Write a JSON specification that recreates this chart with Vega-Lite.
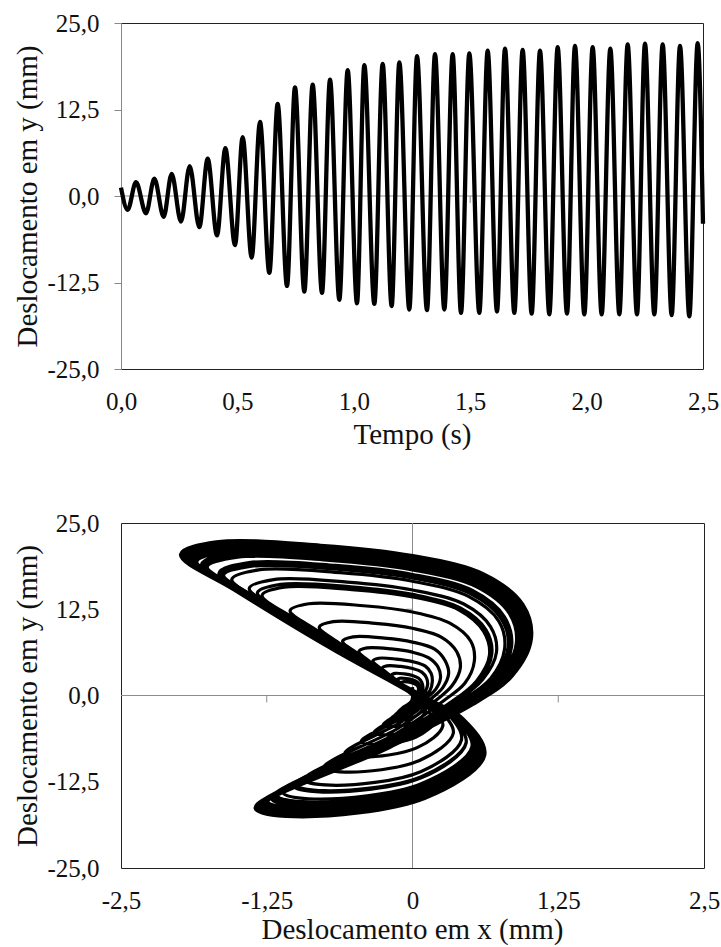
{
"$schema": "https://vega.github.io/schema/vega-lite/v6.json",
"background": "white",
"padding": {"left": 12, "top": 10, "right": 0, "bottom": 0},
"spacing": 60,
"config": {
  "font": "Liberation Serif",
  "view": {"stroke": "#222", "strokeWidth": 1},
  "axis": {"labelFont": "Liberation Serif", "titleFont": "Liberation Serif", "labelFontSize": 25, "titleFontSize": 29, "titleFontWeight": "normal", "labelColor": "#111", "titleColor": "#111", "grid": false, "labelOverlap": false, "labelFlush": false, "labelBound": false}
},
"datasets": {
"phase": [
{"i":0,"x":0.00,"y":1.20},
{"i":1,"x":-0.01,"y":-0.85},{"i":2,"x":-0.09,"y":-1.87},{"i":3,"x":-0.07,"y":-2.00},{"i":4,"x":0.01,"y":-1.70},{"i":5,"x":0.04,"y":-0.99},{"i":6,"x":0.03,"y":-0.41},
{"i":7,"x":0.01,"y":-0.07},{"i":8,"x":-0.03,"y":0.63},{"i":9,"x":-0.08,"y":1.40},{"i":10,"x":-0.10,"y":1.85},{"i":11,"x":-0.08,"y":2.00},{"i":12,"x":-0.04,"y":1.96},{"i":13,"x":0.00,"y":1.82},{"i":14,"x":0.03,"y":1.58},{"i":15,"x":0.05,"y":1.18},{"i":16,"x":0.05,"y":0.74},{"i":17,"x":0.04,"y":0.27},{"i":18,"x":0.03,"y":-0.11},
{"i":19,"x":-0.02,"y":-1.06},{"i":20,"x":-0.12,"y":-2.34},{"i":21,"x":-0.09,"y":-2.50},{"i":22,"x":0.01,"y":-2.12},{"i":23,"x":0.05,"y":-1.24},{"i":24,"x":0.04,"y":-0.51},
{"i":25,"x":0.01,"y":-0.09},{"i":26,"x":-0.05,"y":0.79},{"i":27,"x":-0.10,"y":1.75},{"i":28,"x":-0.13,"y":2.31},{"i":29,"x":-0.11,"y":2.50},{"i":30,"x":-0.05,"y":2.45},{"i":31,"x":0.00,"y":2.28},{"i":32,"x":0.04,"y":1.97},{"i":33,"x":0.06,"y":1.48},{"i":34,"x":0.07,"y":0.93},{"i":35,"x":0.06,"y":0.34},{"i":36,"x":0.03,"y":-0.14},
{"i":37,"x":-0.02,"y":-1.27},{"i":38,"x":-0.15,"y":-2.81},{"i":39,"x":-0.11,"y":-3.00},{"i":40,"x":0.01,"y":-2.55},{"i":41,"x":0.07,"y":-1.48},{"i":42,"x":0.05,"y":-0.61},
{"i":43,"x":0.01,"y":-0.12},{"i":44,"x":-0.06,"y":1.00},{"i":45,"x":-0.14,"y":2.24},{"i":46,"x":-0.18,"y":2.96},{"i":47,"x":-0.15,"y":3.20},{"i":48,"x":-0.07,"y":3.13},{"i":49,"x":0.00,"y":2.91},{"i":50,"x":0.05,"y":2.52},{"i":51,"x":0.08,"y":1.89},{"i":52,"x":0.09,"y":1.19},{"i":53,"x":0.08,"y":0.43},{"i":54,"x":0.05,"y":-0.17},
{"i":55,"x":-0.03,"y":-1.57},{"i":56,"x":-0.19,"y":-3.46},{"i":57,"x":-0.15,"y":-3.70},{"i":58,"x":0.01,"y":-3.14},{"i":59,"x":0.09,"y":-1.83},{"i":60,"x":0.06,"y":-0.75},
{"i":61,"x":0.02,"y":-0.15},{"i":62,"x":-0.09,"y":1.35},{"i":63,"x":-0.20,"y":3.01},{"i":64,"x":-0.26,"y":3.97},{"i":65,"x":-0.22,"y":4.30},{"i":66,"x":-0.10,"y":4.21},{"i":67,"x":0.00,"y":3.91},{"i":68,"x":0.08,"y":3.39},{"i":69,"x":0.12,"y":2.55},{"i":70,"x":0.13,"y":1.60},{"i":71,"x":0.11,"y":0.58},{"i":72,"x":0.07,"y":-0.23},
{"i":73,"x":-0.04,"y":-1.91},{"i":74,"x":-0.25,"y":-4.21},{"i":75,"x":-0.19,"y":-4.50},{"i":76,"x":0.02,"y":-3.82},{"i":77,"x":0.11,"y":-2.22},{"i":78,"x":0.08,"y":-0.91},
{"i":79,"x":0.03,"y":-0.19},{"i":80,"x":-0.12,"y":1.70},{"i":81,"x":-0.26,"y":3.78},{"i":82,"x":-0.34,"y":4.99},{"i":83,"x":-0.29,"y":5.40},{"i":84,"x":-0.14,"y":5.28},{"i":85,"x":0.00,"y":4.91},{"i":86,"x":0.11,"y":4.26},{"i":87,"x":0.16,"y":3.20},{"i":88,"x":0.17,"y":2.01},{"i":89,"x":0.15,"y":0.73},{"i":90,"x":0.09,"y":-0.29},
{"i":91,"x":-0.05,"y":-2.42},{"i":92,"x":-0.33,"y":-5.34},{"i":93,"x":-0.25,"y":-5.70},{"i":94,"x":0.03,"y":-4.84},{"i":95,"x":0.15,"y":-2.82},{"i":96,"x":0.11,"y":-1.16},
{"i":97,"x":0.03,"y":-0.25},{"i":98,"x":-0.16,"y":2.17},{"i":99,"x":-0.36,"y":4.83},{"i":100,"x":-0.46,"y":6.38},{"i":101,"x":-0.39,"y":6.90},{"i":102,"x":-0.18,"y":6.75},{"i":103,"x":0.00,"y":6.28},{"i":104,"x":0.14,"y":5.44},{"i":105,"x":0.22,"y":4.08},{"i":106,"x":0.24,"y":2.57},{"i":107,"x":0.20,"y":0.93},{"i":108,"x":0.12,"y":-0.37},
{"i":109,"x":-0.07,"y":-3.01},{"i":110,"x":-0.44,"y":-6.65},{"i":111,"x":-0.33,"y":-7.10},{"i":112,"x":0.03,"y":-6.03},{"i":113,"x":0.20,"y":-3.51},{"i":114,"x":0.14,"y":-1.44},
{"i":115,"x":0.04,"y":-0.31},{"i":116,"x":-0.21,"y":2.67},{"i":117,"x":-0.46,"y":5.95},{"i":118,"x":-0.60,"y":7.85},{"i":119,"x":-0.51,"y":8.50},{"i":120,"x":-0.24,"y":8.31},{"i":121,"x":0.00,"y":7.74},{"i":122,"x":0.19,"y":6.71},{"i":123,"x":0.28,"y":5.03},{"i":124,"x":0.31,"y":3.16},{"i":125,"x":0.26,"y":1.15},{"i":126,"x":0.16,"y":-0.46},
{"i":127,"x":-0.09,"y":-3.77},{"i":128,"x":-0.58,"y":-8.33},{"i":129,"x":-0.44,"y":-8.90},{"i":130,"x":0.04,"y":-7.56},{"i":131,"x":0.26,"y":-4.40},{"i":132,"x":0.18,"y":-1.81},
{"i":133,"x":0.06,"y":-0.39},{"i":134,"x":-0.28,"y":3.36},{"i":135,"x":-0.62,"y":7.49},{"i":136,"x":-0.80,"y":9.89},{"i":137,"x":-0.68,"y":10.70},{"i":138,"x":-0.32,"y":10.46},{"i":139,"x":0.00,"y":9.74},{"i":140,"x":0.25,"y":8.44},{"i":141,"x":0.38,"y":6.33},{"i":142,"x":0.41,"y":3.98},{"i":143,"x":0.34,"y":1.44},{"i":144,"x":0.21,"y":-0.58},
{"i":145,"x":-0.12,"y":-4.71},{"i":146,"x":-0.76,"y":-10.39},{"i":147,"x":-0.58,"y":-11.10},{"i":148,"x":0.06,"y":-9.42},{"i":149,"x":0.35,"y":-5.48},{"i":150,"x":0.24,"y":-2.25},
{"i":151,"x":0.08,"y":-0.48},{"i":152,"x":-0.37,"y":4.18},{"i":153,"x":-0.81,"y":9.31},{"i":154,"x":-1.05,"y":12.29},{"i":155,"x":-0.89,"y":13.30},{"i":156,"x":-0.42,"y":13.01},{"i":157,"x":0.00,"y":12.10},{"i":158,"x":0.32,"y":10.49},{"i":159,"x":0.50,"y":7.87},{"i":160,"x":0.53,"y":4.95},{"i":161,"x":0.45,"y":1.80},{"i":162,"x":0.27,"y":-0.72},
{"i":163,"x":-0.14,"y":-5.51},{"i":164,"x":-0.93,"y":-12.17},{"i":165,"x":-0.70,"y":-13.00},{"i":166,"x":0.07,"y":-11.04},{"i":167,"x":0.42,"y":-6.42},{"i":168,"x":0.30,"y":-2.64},
{"i":169,"x":0.10,"y":-0.57},{"i":170,"x":-0.45,"y":4.93},{"i":171,"x":-1.00,"y":10.99},{"i":172,"x":-1.29,"y":14.51},{"i":173,"x":-1.10,"y":15.70},{"i":174,"x":-0.52,"y":15.35},{"i":175,"x":0.00,"y":14.29},{"i":176,"x":0.40,"y":12.39},{"i":177,"x":0.61,"y":9.29},{"i":178,"x":0.66,"y":5.84},{"i":179,"x":0.55,"y":2.12},{"i":180,"x":0.34,"y":-0.85},
{"i":181,"x":-0.15,"y":-5.85},{"i":182,"x":-1.00,"y":-12.92},{"i":183,"x":-0.76,"y":-13.80},{"i":184,"x":0.08,"y":-11.72},{"i":185,"x":0.46,"y":-6.82},{"i":186,"x":0.32,"y":-2.80},
{"i":187,"x":0.10,"y":-0.58},{"i":188,"x":-0.47,"y":5.06},{"i":189,"x":-1.03,"y":11.27},{"i":190,"x":-1.33,"y":14.88},{"i":191,"x":-1.13,"y":16.10},{"i":192,"x":-0.53,"y":15.75},{"i":193,"x":0.00,"y":14.65},{"i":194,"x":0.41,"y":12.70},{"i":195,"x":0.63,"y":9.53},{"i":196,"x":0.68,"y":5.99},{"i":197,"x":0.57,"y":2.17},{"i":198,"x":0.35,"y":-0.87},
{"i":199,"x":-0.15,"y":-5.94},{"i":200,"x":-1.02,"y":-13.10},{"i":201,"x":-0.77,"y":-14.00},{"i":202,"x":0.08,"y":-11.89},{"i":203,"x":0.46,"y":-6.92},{"i":204,"x":0.32,"y":-2.84},
{"i":205,"x":0.11,"y":-0.60},{"i":206,"x":-0.49,"y":5.28},{"i":207,"x":-1.09,"y":11.76},{"i":208,"x":-1.40,"y":15.52},{"i":209,"x":-1.19,"y":16.80},{"i":210,"x":-0.56,"y":16.43},{"i":211,"x":0.00,"y":15.29},{"i":212,"x":0.44,"y":13.26},{"i":213,"x":0.67,"y":9.95},{"i":214,"x":0.72,"y":6.25},{"i":215,"x":0.60,"y":2.27},{"i":216,"x":0.37,"y":-0.91},
{"i":217,"x":-0.17,"y":-6.36},{"i":218,"x":-1.11,"y":-14.04},{"i":219,"x":-0.84,"y":-15.00},{"i":220,"x":0.08,"y":-12.74},{"i":221,"x":0.51,"y":-7.41},{"i":222,"x":0.35,"y":-3.05},
{"i":223,"x":0.12,"y":-0.66},{"i":224,"x":-0.54,"y":5.71},{"i":225,"x":-1.20,"y":12.74},{"i":226,"x":-1.55,"y":16.82},{"i":227,"x":-1.32,"y":18.20},{"i":228,"x":-0.62,"y":17.80},{"i":229,"x":0.00,"y":16.56},{"i":230,"x":0.48,"y":14.36},{"i":231,"x":0.74,"y":10.77},{"i":232,"x":0.79,"y":6.77},{"i":233,"x":0.67,"y":2.46},{"i":234,"x":0.40,"y":-0.98},
{"i":235,"x":-0.18,"y":-6.57},{"i":236,"x":-1.16,"y":-14.51},{"i":237,"x":-0.88,"y":-15.50},{"i":238,"x":0.09,"y":-13.16},{"i":239,"x":0.53,"y":-7.66},{"i":240,"x":0.37,"y":-3.15},
{"i":241,"x":0.12,"y":-0.68},{"i":242,"x":-0.57,"y":5.93},{"i":243,"x":-1.26,"y":13.23},{"i":244,"x":-1.63,"y":17.46},{"i":245,"x":-1.38,"y":18.90},{"i":246,"x":-0.65,"y":18.48},{"i":247,"x":0.00,"y":17.20},{"i":248,"x":0.50,"y":14.91},{"i":249,"x":0.77,"y":11.19},{"i":250,"x":0.83,"y":7.03},{"i":251,"x":0.70,"y":2.55},{"i":252,"x":0.42,"y":-1.02},
{"i":253,"x":-0.18,"y":-6.61},{"i":254,"x":-1.17,"y":-14.60},{"i":255,"x":-0.89,"y":-15.60},{"i":256,"x":0.09,"y":-13.24},{"i":257,"x":0.53,"y":-7.71},{"i":258,"x":0.37,"y":-3.17},
{"i":259,"x":0.12,"y":-0.69},{"i":260,"x":-0.58,"y":6.00},{"i":261,"x":-1.28,"y":13.37},{"i":262,"x":-1.65,"y":17.65},{"i":263,"x":-1.40,"y":19.10},{"i":264,"x":-0.66,"y":18.68},{"i":265,"x":0.00,"y":17.38},{"i":266,"x":0.51,"y":15.07},{"i":267,"x":0.78,"y":11.31},{"i":268,"x":0.84,"y":7.11},{"i":269,"x":0.71,"y":2.58},{"i":270,"x":0.43,"y":-1.03},
{"i":271,"x":-0.18,"y":-6.74},{"i":272,"x":-1.20,"y":-14.88},{"i":273,"x":-0.91,"y":-15.90},{"i":274,"x":0.09,"y":-13.50},{"i":275,"x":0.54,"y":-7.85},{"i":276,"x":0.38,"y":-3.23},
{"i":277,"x":0.13,"y":-0.73},{"i":278,"x":-0.62,"y":6.34},{"i":279,"x":-1.37,"y":14.14},{"i":280,"x":-1.77,"y":18.66},{"i":281,"x":-1.50,"y":20.20},{"i":282,"x":-0.71,"y":19.76},{"i":283,"x":0.00,"y":18.38},{"i":284,"x":0.55,"y":15.94},{"i":285,"x":0.84,"y":11.96},{"i":286,"x":0.90,"y":7.51},{"i":287,"x":0.76,"y":2.73},{"i":288,"x":0.46,"y":-1.09},
{"i":289,"x":-0.19,"y":-7.00},{"i":290,"x":-1.25,"y":-15.44},{"i":291,"x":-0.95,"y":-16.50},{"i":292,"x":0.09,"y":-14.01},{"i":293,"x":0.57,"y":-8.15},{"i":294,"x":0.40,"y":-3.35},
{"i":295,"x":0.14,"y":-0.74},{"i":296,"x":-0.63,"y":6.44},{"i":297,"x":-1.40,"y":14.35},{"i":298,"x":-1.80,"y":18.94},{"i":299,"x":-1.53,"y":20.50},{"i":300,"x":-0.72,"y":20.05},{"i":301,"x":0.00,"y":18.66},{"i":302,"x":0.56,"y":16.17},{"i":303,"x":0.86,"y":12.14},{"i":304,"x":0.92,"y":7.63},{"i":305,"x":0.77,"y":2.77},{"i":306,"x":0.47,"y":-1.11},
{"i":307,"x":-0.20,"y":-7.17},{"i":308,"x":-1.29,"y":-15.82},{"i":309,"x":-0.98,"y":-16.90},{"i":310,"x":0.10,"y":-14.35},{"i":311,"x":0.59,"y":-8.35},{"i":312,"x":0.41,"y":-3.43},
{"i":313,"x":0.14,"y":-0.76},{"i":314,"x":-0.65,"y":6.59},{"i":315,"x":-1.44,"y":14.70},{"i":316,"x":-1.86,"y":19.40},{"i":317,"x":-1.58,"y":21.00},{"i":318,"x":-0.74,"y":20.54},{"i":319,"x":0.00,"y":19.11},{"i":320,"x":0.58,"y":16.57},{"i":321,"x":0.88,"y":12.43},{"i":322,"x":0.95,"y":7.81},{"i":323,"x":0.80,"y":2.84},{"i":324,"x":0.48,"y":-1.13},
{"i":325,"x":-0.19,"y":-7.08},{"i":326,"x":-1.27,"y":-15.63},{"i":327,"x":-0.96,"y":-16.70},{"i":328,"x":0.10,"y":-14.18},{"i":329,"x":0.58,"y":-8.25},{"i":330,"x":0.40,"y":-3.39},
{"i":331,"x":0.14,"y":-0.76},{"i":332,"x":-0.65,"y":6.63},{"i":333,"x":-1.45,"y":14.77},{"i":334,"x":-1.87,"y":19.50},{"i":335,"x":-1.59,"y":21.10},{"i":336,"x":-0.75,"y":20.64},{"i":337,"x":0.00,"y":19.20},{"i":338,"x":0.58,"y":16.65},{"i":339,"x":0.89,"y":12.49},{"i":340,"x":0.95,"y":7.85},{"i":341,"x":0.80,"y":2.85},{"i":342,"x":0.49,"y":-1.14},
{"i":343,"x":-0.20,"y":-7.21},{"i":344,"x":-1.30,"y":-15.91},{"i":345,"x":-0.99,"y":-17.00},{"i":346,"x":0.10,"y":-14.43},{"i":347,"x":0.59,"y":-8.40},{"i":348,"x":0.41,"y":-3.45},
{"i":349,"x":0.14,"y":-0.77},{"i":350,"x":-0.67,"y":6.75},{"i":351,"x":-1.48,"y":15.05},{"i":352,"x":-1.91,"y":19.87},{"i":353,"x":-1.62,"y":21.50},{"i":354,"x":-0.76,"y":21.03},{"i":355,"x":0.00,"y":19.57},{"i":356,"x":0.59,"y":16.96},{"i":357,"x":0.91,"y":12.73},{"i":358,"x":0.97,"y":8.00},{"i":359,"x":0.82,"y":2.90},{"i":360,"x":0.50,"y":-1.16},
{"i":361,"x":-0.20,"y":-7.21},{"i":362,"x":-1.30,"y":-15.91},{"i":363,"x":-0.99,"y":-17.00},{"i":364,"x":0.10,"y":-14.43},{"i":365,"x":0.59,"y":-8.40},{"i":366,"x":0.41,"y":-3.45},
{"i":367,"x":0.14,"y":-0.78},{"i":368,"x":-0.68,"y":6.81},{"i":369,"x":-1.50,"y":15.19},{"i":370,"x":-1.93,"y":20.05},{"i":371,"x":-1.64,"y":21.70},{"i":372,"x":-0.77,"y":21.22},{"i":373,"x":0.00,"y":19.75},{"i":374,"x":0.60,"y":17.12},{"i":375,"x":0.92,"y":12.85},{"i":376,"x":0.99,"y":8.07},{"i":377,"x":0.83,"y":2.93},{"i":378,"x":0.50,"y":-1.17},
{"i":379,"x":-0.20,"y":-7.25},{"i":380,"x":-1.31,"y":-16.01},{"i":381,"x":-0.99,"y":-17.10},{"i":382,"x":0.10,"y":-14.52},{"i":383,"x":0.60,"y":-8.45},{"i":384,"x":0.42,"y":-3.47},
{"i":385,"x":0.15,"y":-0.79},{"i":386,"x":-0.69,"y":6.91},{"i":387,"x":-1.52,"y":15.40},{"i":388,"x":-1.97,"y":20.33},{"i":389,"x":-1.67,"y":22.00},{"i":390,"x":-0.79,"y":21.52},{"i":391,"x":0.00,"y":20.02},{"i":392,"x":0.61,"y":17.36},{"i":393,"x":0.93,"y":13.02},{"i":394,"x":1.00,"y":8.18},{"i":395,"x":0.85,"y":2.97},{"i":396,"x":0.51,"y":-1.19},
{"i":397,"x":-0.20,"y":-7.25},{"i":398,"x":-1.31,"y":-16.01},{"i":399,"x":-0.99,"y":-17.10},{"i":400,"x":0.10,"y":-14.52},{"i":401,"x":0.60,"y":-8.45},{"i":402,"x":0.42,"y":-3.47},
{"i":403,"x":0.14,"y":-0.78},{"i":404,"x":-0.68,"y":6.81},{"i":405,"x":-1.50,"y":15.19},{"i":406,"x":-1.93,"y":20.05},{"i":407,"x":-1.64,"y":21.70},{"i":408,"x":-0.77,"y":21.22},{"i":409,"x":0.00,"y":19.75},{"i":410,"x":0.60,"y":17.12},{"i":411,"x":0.92,"y":12.85},{"i":412,"x":0.99,"y":8.07},{"i":413,"x":0.83,"y":2.93},{"i":414,"x":0.50,"y":-1.17},
{"i":415,"x":-0.20,"y":-7.38},{"i":416,"x":-1.34,"y":-16.29},{"i":417,"x":-1.01,"y":-17.40},{"i":418,"x":0.10,"y":-14.77},{"i":419,"x":0.61,"y":-8.60},{"i":420,"x":0.43,"y":-3.53},
{"i":421,"x":0.15,"y":-0.80},{"i":422,"x":-0.69,"y":6.94},{"i":423,"x":-1.53,"y":15.47},{"i":424,"x":-1.98,"y":20.42},{"i":425,"x":-1.68,"y":22.10},{"i":426,"x":-0.79,"y":21.61},{"i":427,"x":0.00,"y":20.11},{"i":428,"x":0.61,"y":17.44},{"i":429,"x":0.94,"y":13.08},{"i":430,"x":1.01,"y":8.22},{"i":431,"x":0.85,"y":2.98},{"i":432,"x":0.51,"y":-1.19},
{"i":433,"x":0.18,"y":-4.00}
]
},
"vconcat": [
{
  "width": 582, "height": 346,
  "layer": [
    {"data": {"values": [{}]}, "mark": {"type": "rule", "color": "#8c8c8c", "strokeWidth": 1}, "encoding": {"y": {"datum": 0, "type": "quantitative"}}},
    {"data": {"values": [{"t": 0.5}, {"t": 1.0}, {"t": 1.5}, {"t": 2.0}, {"t": 2.5}]}, "mark": {"type": "rule", "color": "#8c8c8c", "strokeWidth": 1},
     "encoding": {"x": {"field": "t", "type": "quantitative", "title": "Tempo (s)"}, "y": {"datum": 0, "type": "quantitative"}, "y2": {"datum": -1}}},
    {"data": {"values": [
{"t":0,"y":1.2},{"t":0.0286,"y":-2.0},{"t":0.0644,"y":2.0},{"t":0.1074,"y":-2.5},{"t":0.1432,"y":2.5},{"t":0.1833,"y":-3.0},{"t":0.2176,"y":3.2},{"t":0.2577,"y":-3.7},{"t":0.295,"y":4.3},{"t":0.3365,"y":-4.5},{"t":0.3723,"y":5.4},{"t":0.4124,"y":-5.7},{"t":0.4482,"y":6.9},{"t":0.4897,"y":-7.1},{"t":0.5226,"y":8.5},{"t":0.5613,"y":-8.9},{"t":0.5971,"y":10.7},{"t":0.6372,"y":-11.1},{"t":0.673,"y":13.3},{"t":0.7131,"y":-13.0},{"t":0.7474,"y":15.7},{"t":0.7875,"y":-13.8},{"t":0.8233,"y":16.1},{"t":0.8634,"y":-14.0},{"t":0.8978,"y":16.8},{"t":0.9379,"y":-15.0},{"t":0.9737,"y":18.2},{"t":1.0137,"y":-15.5},{"t":1.0452,"y":18.9},{"t":1.0882,"y":-15.6},{"t":1.124,"y":19.1},{"t":1.1626,"y":-15.9},{"t":1.1956,"y":19.3},{"t":1.2385,"y":-16.4},{"t":1.2715,"y":20.2},{"t":1.3144,"y":-16.5},{"t":1.3488,"y":20.5},{"t":1.3889,"y":-16.4},{"t":1.4247,"y":20.5},{"t":1.4605,"y":-16.9},{"t":1.4962,"y":20.6},{"t":1.5392,"y":-16.9},{"t":1.575,"y":21.0},{"t":1.6151,"y":-16.7},{"t":1.6495,"y":21.3},{"t":1.6896,"y":-16.9},{"t":1.7253,"y":21.1},{"t":1.764,"y":-17.0},{"t":1.7998,"y":21.0},{"t":1.8399,"y":-17.1},{"t":1.8757,"y":21.5},{"t":1.9158,"y":-17.0},{"t":1.9501,"y":21.7},{"t":1.9902,"y":-17.1},{"t":2.026,"y":21.5},{"t":2.0647,"y":-17.1},{"t":2.1019,"y":21.3},{"t":2.1406,"y":-17.1},{"t":2.1764,"y":21.9},{"t":2.2165,"y":-17.1},{"t":2.2508,"y":22.0},{"t":2.2909,"y":-17.1},{"t":2.3267,"y":21.9},{"t":2.3654,"y":-17.2},{"t":2.4012,"y":21.7},{"t":2.4413,"y":-17.4},{"t":2.4771,"y":22.1},{"t":2.5,"y":-4.0}
    ]},
     "mark": {"type": "line", "interpolate": "monotone", "strokeWidth": 4.3, "color": "black", "strokeJoin": "round"},
     "encoding": {
       "x": {"field": "t", "type": "quantitative", "title": "Tempo (s)", "scale": {"domain": [0, 2.5], "nice": false, "zero": false},
             "axis": {"values": [0, 0.5, 1, 1.5, 2, 2.5], "labelExpr": "datum.value % 1 == 0 ? toString(datum.value) + ',0' : replace(toString(datum.value), '.', ',')", "domain": false, "ticks": false, "labelPadding": 20, "titleX": 291, "titleY": 74, "titleAlign": "center", "titleBaseline": "alphabetic", "titleAngle": 0}},
       "y": {"field": "y", "type": "quantitative", "title": "Deslocamento em y (mm)", "scale": {"domain": [-25, 25], "nice": false, "zero": false},
             "axis": {"values": [-25, -12.5, 0, 12.5, 25], "labelExpr": "datum.value % 1 == 0 ? toString(datum.value) + ',0' : replace(toString(datum.value), '.', ',')", "domain": true, "domainColor": "#888", "ticks": true, "tickSize": 7, "tickColor": "#888", "labelPadding": 15, "titleX": -85, "titleY": 173, "titleAngle": -90, "titleAlign": "center", "titleBaseline": "alphabetic"}}
     }}
  ]
},
{
  "width": 583, "height": 345,
  "layer": [
    {"data": {"values": [{}]}, "mark": {"type": "rule", "color": "#8c8c8c", "strokeWidth": 1}, "encoding": {"y": {"datum": 0, "type": "quantitative"}}},
    {"data": {"values": [{}]}, "mark": {"type": "rule", "color": "#8c8c8c", "strokeWidth": 1}, "encoding": {"x": {"datum": 0, "type": "quantitative"}}},
    {"data": {"values": [{"x": -1.25}, {"x": 1.25}]}, "mark": {"type": "rule", "color": "#8c8c8c", "strokeWidth": 1},
     "encoding": {"x": {"field": "x", "type": "quantitative", "title": "Deslocamento em x (mm)"}, "y": {"datum": 0, "type": "quantitative"}, "y2": {"datum": -1}}},
    {"data": {"values": [{"y": -12.5}, {"y": 12.5}]}, "mark": {"type": "rule", "color": "#8c8c8c", "strokeWidth": 1},
     "encoding": {"y": {"field": "y", "type": "quantitative", "title": "Deslocamento em y (mm)"}, "x": {"datum": 0, "type": "quantitative"}, "x2": {"datum": -0.06}}},
    {"data": {"name": "phase"}, "transform": [{"filter": "datum.i <= 241"}],
     "mark": {"type": "line", "interpolate": "catmull-rom", "strokeWidth": 3.2, "color": "black", "strokeJoin": "round"},
     "encoding": {
       "order": {"field": "i", "type": "quantitative"},
       "x": {"field": "x", "type": "quantitative", "title": "Deslocamento em x (mm)", "scale": {"domain": [-2.5, 2.5], "nice": false, "zero": false},
             "axis": {"values": [-2.5, -1.25, 0, 1.25, 2.5], "labelExpr": "replace(toString(datum.value), '.', ',')", "domain": false, "ticks": false, "labelPadding": 20, "titleX": 291, "titleY": 70, "titleAlign": "center", "titleBaseline": "alphabetic", "titleAngle": 0}},
       "y": {"field": "y", "type": "quantitative", "title": "Deslocamento em y (mm)", "scale": {"domain": [-25, 25], "nice": false, "zero": false},
             "axis": {"values": [-25, -12.5, 0, 12.5, 25], "labelExpr": "datum.value % 1 == 0 ? toString(datum.value) + ',0' : replace(toString(datum.value), '.', ',')", "domain": false, "ticks": false, "labelPadding": 22, "titleX": -85, "titleY": 172.5, "titleAngle": -90, "titleAlign": "center", "titleBaseline": "alphabetic"}}
     }},
    {"data": {"name": "phase"}, "transform": [{"filter": "datum.i >= 241"}],
     "mark": {"type": "line", "interpolate": "catmull-rom", "strokeWidth": 5.5, "color": "black", "strokeJoin": "round"},
     "encoding": {
       "order": {"field": "i", "type": "quantitative"},
       "x": {"field": "x", "type": "quantitative", "title": "Deslocamento em x (mm)", "scale": {"domain": [-2.5, 2.5], "nice": false, "zero": false},
             "axis": {"values": [-2.5, -1.25, 0, 1.25, 2.5], "labelExpr": "replace(toString(datum.value), '.', ',')", "domain": false, "ticks": false, "labelPadding": 20, "titleX": 291, "titleY": 70, "titleAlign": "center", "titleBaseline": "alphabetic", "titleAngle": 0}},
       "y": {"field": "y", "type": "quantitative", "title": "Deslocamento em y (mm)", "scale": {"domain": [-25, 25], "nice": false, "zero": false},
             "axis": {"values": [-25, -12.5, 0, 12.5, 25], "labelExpr": "datum.value % 1 == 0 ? toString(datum.value) + ',0' : replace(toString(datum.value), '.', ',')", "domain": false, "ticks": false, "labelPadding": 22, "titleX": -85, "titleY": 172.5, "titleAngle": -90, "titleAlign": "center", "titleBaseline": "alphabetic"}}
     }}
  ]
}
]
}
